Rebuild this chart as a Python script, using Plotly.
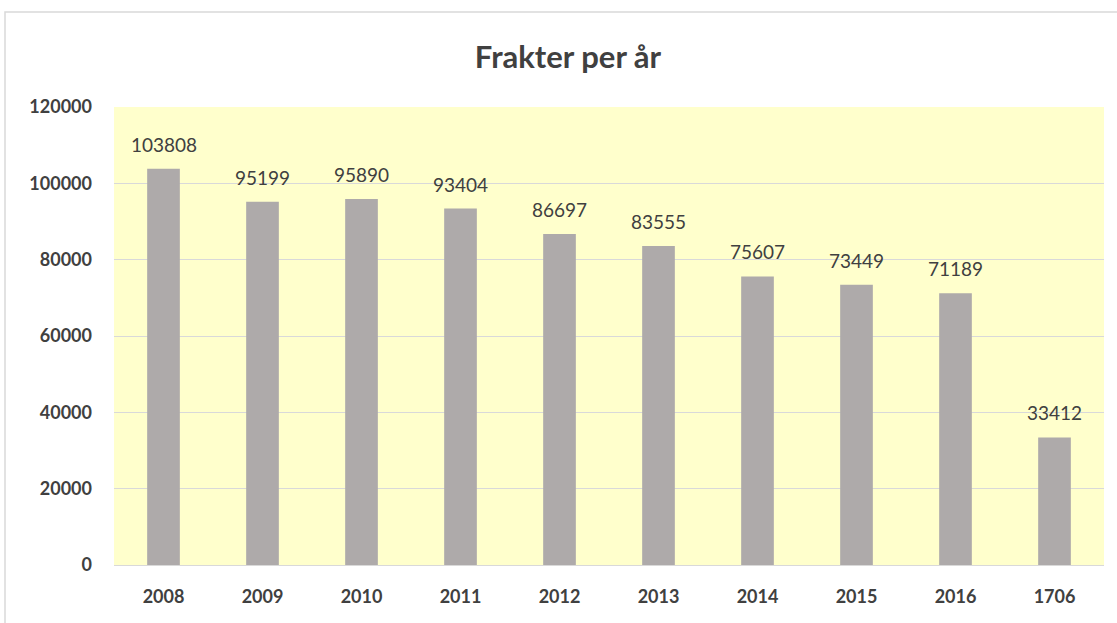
import plotly.graph_objects as go

categories = ["2008", "2009", "2010", "2011", "2012", "2013", "2014", "2015", "2016", "1706"]
values = [103808, 95199, 95890, 93404, 86697, 83555, 75607, 73449, 71189, 33412]
y_ticks = [0, 20000, 40000, 60000, 80000, 100000, 120000]

W, H = 1117, 623
L, R, T, B = 114, 1104, 107, 565
pw, ph = R - L, B - T

def px(x):
    return (x - L) / pw

def py(y):
    return (B - y) / ph

FONT = "Lato, Open Sans, sans-serif"

fig = go.Figure()
fig.add_trace(go.Bar(
    x=categories, y=values,
    marker=dict(color="#AEAAAA", line=dict(width=0)),
    width=0.33,
    hoverinfo="x+y",
))

for i, v in enumerate(values):
    fig.add_annotation(
        x=i, y=v, text=str(v), showarrow=False,
        xref="x", yref="y", yanchor="bottom", yshift=11,
        font=dict(family=FONT, size=19, color="#404040"),
    )

fig.add_shape(
    type="rect", xref="paper", yref="paper",
    x0=px(5), x1=px(1125), y0=py(12), y1=py(640),
    line=dict(color="#D9D9D9", width=1.5), fillcolor="rgba(0,0,0,0)",
    layer="below",
)

fig.update_layout(
    width=W, height=H,
    margin=dict(l=L, r=W - R, t=T, b=H - B, pad=0),
    paper_bgcolor="white",
    plot_bgcolor="#FFFFCC",
    title=dict(
        text="<b>Frakter per år</b>",
        x=568 / W, xref="container", xanchor="center",
        y=1 - 57 / H, yref="container", yanchor="middle",
        font=dict(family=FONT, size=31, color="#404040"),
    ),
    showlegend=False,
    xaxis=dict(
        type="category", range=[-0.5, len(categories) - 0.5],
        showgrid=False, showline=True, linecolor="#D9D9D9", linewidth=1,
        ticks="", ticklabelstandoff=15,
        tickfont=dict(family=FONT, size=18, color="#404040", weight="bold"),
    ),
    yaxis=dict(
        range=[0, 120000], tickvals=y_ticks, ticktext=[str(t) for t in y_ticks],
        showgrid=True, gridcolor="#D9D9D9", gridwidth=1,
        zeroline=False, showline=False, ticks="", ticklabelstandoff=21,
        tickfont=dict(family=FONT, size=18, color="#404040", weight="bold"),
    ),
)

fig.write_html(
    "out.html",
    config={"displayModeBar": False},
    post_script="document.body.style.margin='0px';",
)
